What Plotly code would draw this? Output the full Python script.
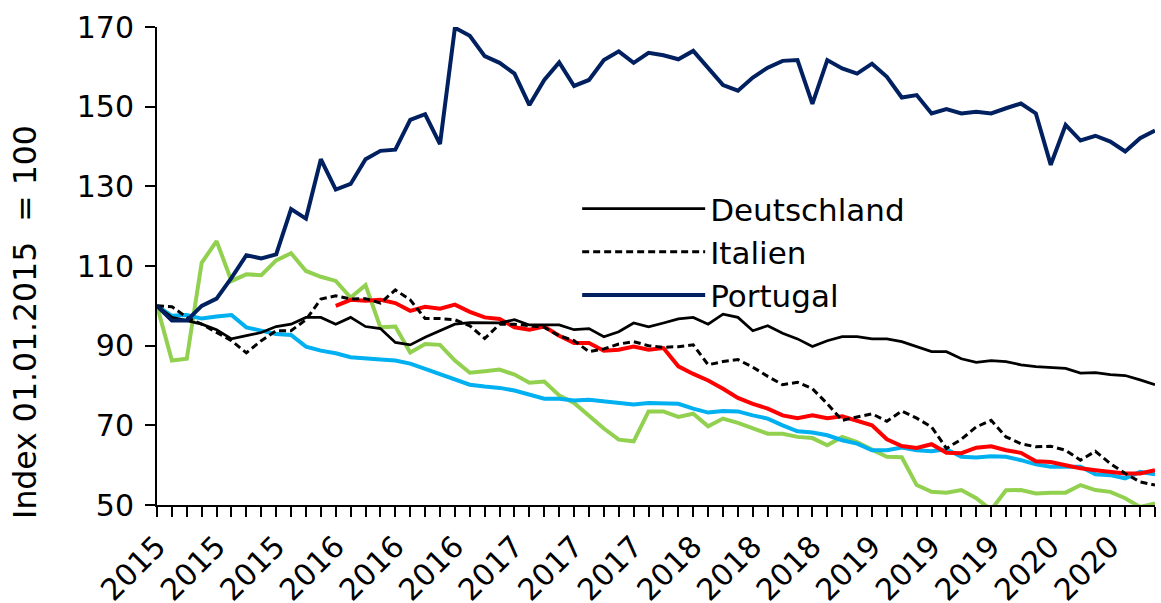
import plotly.graph_objects as go

# monthly observations, Jan 2015 - Aug 2020
months = [f"{y}-{m:02d}" for y in range(2015, 2021) for m in range(1, 13)][:68]

deutschland = [
    100, 97.1, 96.3, 95.4, 94, 91.7, 92.5, 93.3, 94.8, 95.4, 97.1, 97.1,
    95.4, 97.1, 94.8, 94.3, 90.8, 90.2, 92.1, 93.75, 95.4, 95.8, 95.7, 95.7,
    96.5, 95.2, 95.2, 95.2, 94, 94.3, 92.25, 93.5, 95.7, 94.7, 95.7, 96.7,
    97.1, 95.4, 97.9, 97.1, 93.75, 95, 93.1, 91.7, 89.8, 91.25, 92.25, 92.25,
    91.7, 91.7, 91, 89.75, 88.5, 88.5, 86.7, 85.8, 86.25, 86, 85.2, 84.75,
    84.6, 84.3, 83.1, 83.2, 82.75, 82.5, 81.4, 80.2]
italien = [
    100, 99.8, 97.1, 95.4, 93.3, 91.25, 88.2, 91.25, 93.75, 93.75, 96.5, 101.7,
    102.5, 101.7, 101.8, 100.7, 104, 101.5, 96.8, 96.8, 96.5, 95, 91.8, 95.4,
    95.4, 95, 94.6, 92.5, 91.25, 88.5, 89.2, 90.4, 91, 90, 89.6, 89.75,
    90.2, 85.2, 86, 86.5, 84.6, 82.3, 80.2, 80.8, 79.2, 75.4, 71.25, 72.1,
    72.9, 71, 73.6, 71.8, 69.6, 64.2, 66.5, 69.6, 71.25, 67.1, 65.4, 64.6,
    64.75, 63.75, 61.25, 63.5, 60.4, 57.9, 55.8, 55]
portugal = [
    100, 96.3, 96.3, 100, 101.8, 107, 112.7, 111.9, 112.9, 124.3, 121.9, 136.8,
    129.2, 130.6, 136.8, 138.9, 139.2, 146.7, 148.1, 140.6, 169.8, 167.8, 162.7, 161,
    158.3, 150.4, 156.7, 161.1, 155.2, 156.7, 161.7, 163.9, 161, 163.5, 162.9, 161.9,
    164, 159.6, 155.4, 154, 157.3, 159.8, 161.5, 161.7, 150.7, 161.7, 159.6, 158.3,
    160.8, 157.5, 152.3, 152.9, 148.3, 149.4, 148.3, 148.75, 148.3, 149.6, 150.8, 148.3,
    135.4, 145.4, 141.5, 142.7, 141.25, 138.75, 142.1, 144]
# series whose legend entries are not visible in the source
red_series = [
    None, None, None, None, None, None, None, None, None, None, None, None,
    100, 101.5, 101.25, 101.5, 100.7, 98.75, 99.75, 99.3, 100.3, 98.5, 97.1, 96.7,
    94.6, 94, 94.8, 92.5, 90.7, 90.7, 88.75, 89, 89.8, 89, 89.4, 84.8,
    82.9, 81.25, 79.2, 76.9, 75.4, 74.2, 72.5, 71.8, 72.5, 71.8, 72.25, 71,
    70, 66.5, 64.8, 64.3, 65.25, 63.1, 63, 64.4, 64.75, 63.75, 63.1, 61,
    60.8, 60, 59.2, 58.75, 58.3, 57.9, 57.9, 58.75]
green_series = [
    100, 86.25, 86.7, 110.8, 116.25, 106.25, 107.9, 107.7, 111.4, 113.2, 108.75, 107.3,
    106.25, 102.1, 105.2, 94.6, 94.8, 88.3, 90.4, 90.2, 86.25, 83.2, 83.6, 84,
    82.75, 80.7, 81, 77.5, 75.6, 72.25, 69.2, 66.4, 66, 73.5, 73.5, 72.1,
    72.9, 69.75, 71.7, 70.6, 69.2, 67.9, 67.9, 67.1, 66.8, 65, 67.1, 65.8,
    63.9, 62.1, 62, 55, 53.3, 53.1, 53.75, 51.7, 48.8, 53.7, 53.75, 52.9,
    53.1, 53.1, 55, 53.75, 53.3, 51.7, 49.5, 50.4]
blue_series = [
    100, 97.5, 97.7, 96.8, 97.3, 97.7, 94.6, 93.75, 92.9, 92.7, 89.75, 88.75,
    88.1, 87.1, 86.9, 86.5, 86.25, 85.5, 84.2, 82.9, 81.4, 80.2, 79.75, 79.4,
    78.75, 77.7, 76.7, 76.7, 76.25, 76.4, 76, 75.6, 75.25, 75.6, 75.4, 75.4,
    74.2, 73.2, 73.6, 73.5, 72.5, 71.7, 70, 68.5, 68.2, 67.5, 66.25, 65.4,
    63.75, 63.75, 64.4, 63.75, 63.5, 64, 62.1, 61.9, 62.25, 62.1, 61.25, 60.2,
    59.6, 59.6, 59.6, 57.7, 57.5, 56.7, 58.3, 57.7]

tick_text = [m[:4] if i % 4 == 0 else "" for i, m in enumerate(months)]

FONT = "DejaVu Sans"

fig = go.Figure()


def add_line(values, name, color, width, dash="solid", legend=True):
    fig.add_trace(go.Scatter(
        x=months, y=values, name=name, mode="lines", showlegend=legend,
        line=dict(color=color, width=width, dash=dash)))


add_line(green_series, "Serie 5", "#92D050", 4, legend=False)
add_line(blue_series, "Serie 6", "#00B0F0", 4, legend=False)
add_line(red_series, "Serie 4", "#FF0000", 4, legend=False)
add_line(deutschland, "Deutschland", "black", 2.75)
add_line(italien, "Italien", "black", 3, dash="7px,4px")
add_line(portugal, "Portugal", "#002060", 4)

fig.update_layout(
    width=1161, height=603,
    margin=dict(l=157, r=6, t=27, b=98),
    paper_bgcolor="white", plot_bgcolor="white",
    font=dict(family=FONT, size=30, color="black"),
    showlegend=True,
    legend=dict(
        x=0.421, y=0.676, xanchor="left", yanchor="top",
        bgcolor="rgba(0,0,0,0)", itemwidth=123, traceorder="normal",
        font=dict(size=31), tracegroupgap=0),
    xaxis=dict(
        type="category", range=[0, len(months) - 1], automargin=False,
        tickmode="array", tickvals=months, ticktext=tick_text,
        tickangle=-45, ticks="outside", ticklen=10, tickwidth=2,
        tickcolor="black", showline=True, linecolor="black", linewidth=2,
        showgrid=False, zeroline=False),
    yaxis=dict(
        range=[50, 170], tickvals=[50, 70, 90, 110, 130, 150, 170],
        automargin=False, ticklabelstandoff=5,
        ticks="outside", ticklen=10, tickwidth=2, tickcolor="black",
        showline=True, linecolor="black", linewidth=2,
        showgrid=False, zeroline=False),
)

# y title sits lower than the axis centre in the source, so place it by hand
fig.add_annotation(
    text="Index 01.01.2015  = 100", textangle=-90, showarrow=False,
    xref="paper", yref="paper", x=-0.1323, y=0.383,
    xanchor="center", yanchor="middle", font=dict(size=31.5))

# drop the browser's default 8px page margin so the figure sits at (0, 0)
fig.write_html(
    "out.html", config={"displayModeBar": False},
    post_script="document.body.style.margin='0';")
